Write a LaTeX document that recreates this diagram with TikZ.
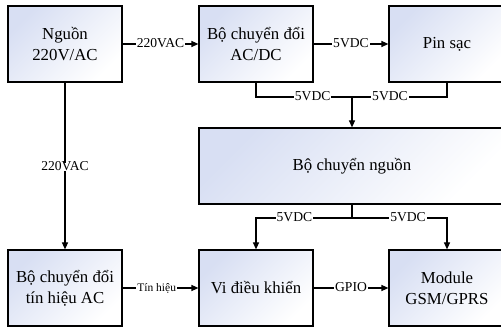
\documentclass[tikz,border=0pt]{standalone}
\usepackage{fontspec}
\setmainfont{Liberation Serif}
\usetikzlibrary{arrows.meta}
\definecolor{boxc}{RGB}{216,223,243}
\tikzset{
  box/.style={draw, line width=1.2pt, top color=boxc, bottom color=white, shading angle=45,
    align=center, font=\fontsize{16.8}{21}\selectfont, inner sep=2pt, minimum height=76pt},
  conn/.style={line width=1.2pt},
  arr/.style={line width=1.2pt, -{Triangle[length=7pt,width=6pt]}},
  lbl/.style={fill=white, inner sep=1pt, font=\fontsize{13.6}{15}\selectfont, text height=0.66em, text depth=0pt}
}
\begin{document}
\begin{tikzpicture}[x=1pt,y=-1pt]
\useasboundingbox (0,0) rectangle (501,328);
\fill[white] (0,0) rectangle (501,328);
\node[box, minimum width=114pt] (src) at (65,44) {Nguồn\\220V/AC};
\node[box, minimum width=114pt] (acdc) at (256,44) {Bộ chuyển đổi\\AC/DC};
\node[box, minimum width=116pt] (pin) at (447,44) {Pin sạc};
\node[box, minimum width=306pt] (nguon) at (352,166) {Bộ chuyển nguồn};
\node[box, minimum width=114pt] (sig) at (65,288) {Bộ chuyển đổi\\tín hiệu AC};
\node[box, minimum width=114pt] (vi) at (256,288) {Vi điều khiển};
\node[box, minimum width=116pt] (mod) at (447,288) {Module\\GSM/GPRS};
\coordinate (j1) at (352,97);
\coordinate (j2) at (352,218);
\draw[arr] (src.east) -- node[lbl]{220VAC} (acdc.west);
\draw[arr] (acdc.east) -- node[lbl]{5VDC} (pin.west);
\draw[conn] (acdc.south) -- (acdc.south |- j1) -- node[lbl,pos=0.59]{5VDC} (j1)
  -- node[lbl,pos=0.4]{5VDC} (pin.south |- j1) -- (pin.south);
\draw[arr] (j1) -- (nguon.north);
\draw[conn] (nguon.south) -- (j2);
\draw[arr] (j2) -- node[lbl,pos=0.6]{5VDC} (vi.north |- j2) -- (vi.north);
\draw[arr] (j2) -- node[lbl,pos=0.59]{5VDC} (mod.north |- j2) -- (mod.north);
\draw[arr] (src.south) -- node[lbl,pos=0.506]{220VAC} (sig.north);
\draw[arr] (sig.east) -- node[lbl,pos=0.45,font=\fontsize{11.5}{13}\selectfont]{Tín hiệu} (vi.west);
\draw[arr] (vi.east) -- node[lbl]{GPIO} (mod.west);
\end{tikzpicture}
\end{document}
